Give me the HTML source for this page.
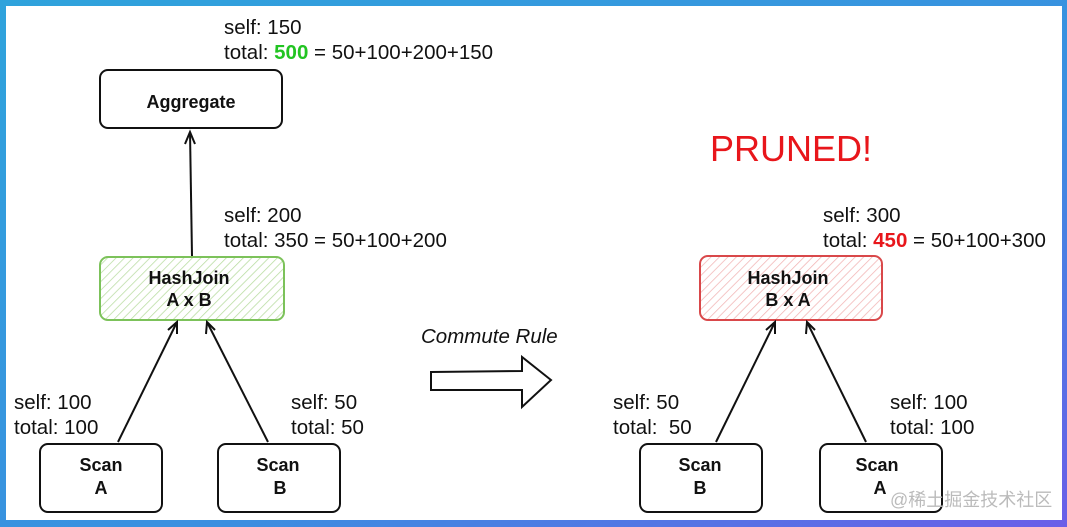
<!DOCTYPE html>
<html><head><meta charset="utf-8"><style>
html,body{margin:0;padding:0;width:1067px;height:527px;overflow:hidden;background:#fff}
svg{display:block}
text{font-family:"Liberation Sans",sans-serif}
</style></head><body>
<svg width="1067" height="527" viewBox="0 0 1067 527" xmlns="http://www.w3.org/2000/svg">
<defs>
<linearGradient id="bd" x1="0" y1="0" x2="1" y2="1">
<stop offset="0" stop-color="#2fa3dc"/><stop offset="0.6" stop-color="#3a8fe0"/><stop offset="1" stop-color="#6a5ee8"/>
</linearGradient>
<pattern id="hg" width="6" height="6" patternUnits="userSpaceOnUse" patternTransform="rotate(45)">
<rect width="6" height="6" fill="#fff"/><line x1="0" y1="0" x2="0" y2="6" stroke="#b8dca0" stroke-width="1.5"/></pattern>
<pattern id="hr" width="6" height="6" patternUnits="userSpaceOnUse" patternTransform="rotate(45)">
<rect width="6" height="6" fill="#fff"/><line x1="0" y1="0" x2="0" y2="6" stroke="#f2b4b4" stroke-width="1.5"/></pattern>
</defs>
<rect width="1067" height="527" fill="url(#bd)"/>
<rect x="6" y="6" width="1056" height="514" fill="#fff"/>
<g stroke="#111" stroke-width="2" fill="#fff">
<rect x="100" y="70" width="182" height="58" rx="8"/>
<rect x="40" y="444" width="122" height="68" rx="8"/>
<rect x="218" y="444" width="122" height="68" rx="8"/>
<rect x="640" y="444" width="122" height="68" rx="8"/>
<rect x="820" y="444" width="122" height="68" rx="8"/>
</g>
<rect x="100" y="257" width="184" height="63" rx="8" fill="url(#hg)" stroke="#7cc25a" stroke-width="2"/>
<rect x="700" y="256" width="182" height="64" rx="8" fill="url(#hr)" stroke="#d9484a" stroke-width="2"/>
<g stroke="#111" stroke-width="2" fill="none">
<line x1="192" y1="256" x2="190" y2="132"/><path d="M185 144 L190 132 L195 144"/>
<line x1="118" y1="442" x2="177" y2="322"/><path d="M168 330 L177 322 L177 334"/>
<line x1="268" y1="442" x2="207" y2="322"/><path d="M206 334 L207 322 L215 330"/>
<line x1="716" y1="442" x2="775" y2="322"/><path d="M766 330 L775 322 L775 334"/>
<line x1="866" y1="442" x2="807" y2="322"/><path d="M806 334 L807 322 L815 330"/>
<path d="M431 372 L522 371 L522 357 L551 380 L522 407 L522 390 L431 390 Z" fill="#fff"/>
</g>
<g font-size="20.5" fill="#111">
<text x="224" y="34">self: 150</text>
<text x="224" y="59">total: <tspan fill="#22c422" font-weight="bold">500</tspan> = 50+100+200+150</text>
<text x="224" y="222">self: 200</text>
<text x="224" y="247">total: 350 = 50+100+200</text>
<text x="14" y="409">self: 100</text>
<text x="14" y="434">total: 100</text>
<text x="291" y="409">self: 50</text>
<text x="291" y="434">total: 50</text>
<text x="823" y="222">self: 300</text>
<text x="823" y="247">total: <tspan fill="#e8161b" font-weight="bold">450</tspan> = 50+100+300</text>
<text x="613" y="409">self: 50</text>
<text x="613" y="434" xml:space="preserve">total:  50</text>
<text x="890" y="409">self: 100</text>
<text x="890" y="434">total: 100</text>
<text x="421" y="343" font-style="italic">Commute Rule</text>
</g>
<text x="710" y="161" font-size="36" fill="#e8161b">PRUNED!</text>
<g font-size="18" font-weight="bold" fill="#111" text-anchor="middle">
<text x="191" y="108">Aggregate</text>
<text x="189" y="284">HashJoin</text><text x="189" y="306">A x B</text>
<text x="788" y="284">HashJoin</text><text x="788" y="306">B x A</text>
<text x="101" y="471">Scan</text><text x="101" y="494">A</text>
<text x="278" y="471">Scan</text><text x="280" y="494">B</text>
<text x="700" y="471">Scan</text><text x="700" y="494">B</text>
<text x="877" y="471">Scan</text><text x="880" y="494">A</text>
</g>
<text x="890" y="506" font-size="18" fill="#bbb" style="font-family:'Liberation Sans','Noto Sans CJK SC',sans-serif">@稀土掘金技术社区</text>
</svg>
</body></html>
